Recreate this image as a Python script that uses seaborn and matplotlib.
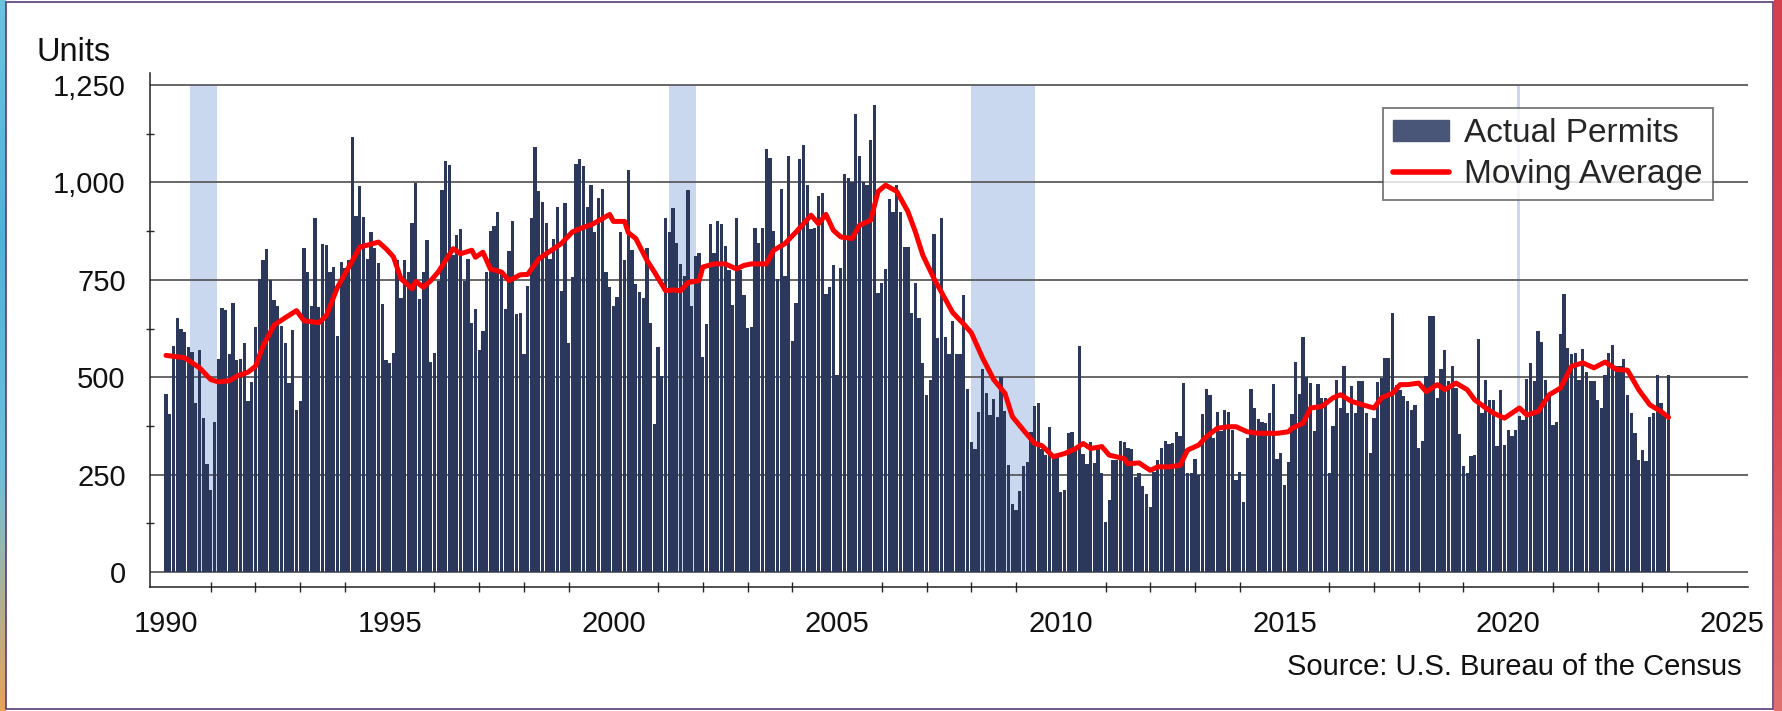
import numpy as np
import pandas as pd
import seaborn as sns
import matplotlib.pyplot as plt
from matplotlib.colors import LinearSegmentedColormap
from matplotlib.ticker import MultipleLocator, FuncFormatter
from matplotlib.patches import Patch, Rectangle
from matplotlib.lines import Line2D

# Monthly permits (units), Jan 1990 - Aug 2023
permits_1990s = [
    456, 405, 580, 652, 623, 615, 578, 565, 435, 569, 395, 278,
    211, 386, 546, 677, 672, 560, 691, 543, 546, 589, 440, 488,
    628, 752, 800, 828, 750, 698, 684, 632, 589, 485, 622, 416,
    438, 832, 771, 684, 908, 681, 843, 840, 771, 783, 607, 796,
    780, 800, 1116, 914, 990, 912, 803, 873, 832, 793, 688, 543,
    537, 563, 802, 703, 802, 771, 896, 998, 701, 770, 852, 540,
    563, 748, 981, 1054, 1045, 813, 866, 881, 748, 804, 640, 675,
    571, 619, 771, 875, 888, 925, 770, 675, 823, 901, 662, 666,
    559, 734, 908, 1091, 977, 951, 895, 804, 856, 936, 722, 948,
    589, 757, 1047, 1060, 1043, 938, 994, 873, 959, 983, 771, 731,
]
permits_2000s = [
    684, 707, 873, 800, 1031, 826, 740, 720, 703, 832, 640, 379,
    578, 502, 909, 873, 934, 845, 790, 760, 981, 684, 810, 819,
    552, 637, 893, 820, 901, 893, 837, 774, 685, 908, 776, 711,
    626, 628, 882, 845, 884, 1087, 1063, 875, 753, 983, 761, 1069,
    593, 690, 1060, 1095, 994, 880, 882, 964, 974, 714, 731, 787,
    506, 780, 1022, 1012, 1002, 1176, 1068, 1002, 994, 1109, 1199, 717,
    742, 778, 957, 925, 994, 925, 835, 835, 665, 742, 652, 537,
    455, 493, 868, 601, 909, 603, 560, 645, 559, 559, 711, 471,
    334, 317, 412, 520, 459, 403, 444, 397, 500, 414, 274, 175,
    159, 208, 272, 283, 360, 427, 435, 317, 300, 373, 300, 295,
]
permits_2010s = [
    205, 211, 356, 360, 317, 580, 304, 276, 334, 281, 324, 253,
    128, 184, 287, 287, 337, 333, 319, 315, 244, 253, 222, 201,
    168, 257, 287, 319, 336, 328, 330, 360, 349, 485, 253, 253,
    289, 248, 405, 471, 455, 343, 412, 363, 416, 412, 365, 235,
    257, 179, 343, 471, 421, 393, 386, 382, 409, 483, 291, 306,
    224, 283, 405, 539, 457, 604, 500, 485, 362, 483, 447, 447,
    253, 376, 494, 421, 530, 408, 478, 409, 490, 490, 408, 306,
    395, 487, 498, 550, 550, 666, 481, 468, 451, 438, 416, 429,
    319, 336, 503, 657, 657, 447, 520, 570, 490, 530, 472, 353,
    272, 254, 298, 300, 597, 408, 494, 442, 442, 323, 468, 326,
]
permits_2020s = [
    365, 349, 365, 401, 390, 496, 537, 490, 619, 591, 494, 451,
    378, 386, 610, 714, 576, 560, 562, 494, 572, 513, 490, 490,
    442, 421, 505, 562, 583, 529, 529, 546, 455, 408, 356, 287,
    313, 284, 397, 408, 505, 435, 408, 505,
]

# Moving average, read at months counted from Jan 1990
ma_month = [0, 5, 9, 12, 14, 17, 19, 22, 24, 26, 29, 32, 35, 37, 41, 43, 46, 50, 52, 57,
            59, 61, 63, 66, 67, 69, 71, 73, 77, 79, 82, 83, 85, 87, 90, 92, 95, 97, 100, 104,
            106, 109, 112, 114, 117, 119, 120, 123, 124, 126, 129, 131, 134, 136, 138, 140, 143, 144, 147, 150,
            153, 155, 157, 161, 163, 166, 169, 171, 173, 175, 177, 179, 181, 184, 186, 189, 191, 193, 196, 199,
            201, 203, 206, 208, 211, 214, 216, 219, 222, 225, 227, 230, 233, 235, 238, 241, 244, 246, 248, 251,
            253, 257, 258, 261, 264, 266, 269, 272, 274, 277, 279, 282, 285, 287, 290, 293, 295, 298, 301, 302,
            305, 307, 310, 313, 315, 318, 321, 324, 326, 329, 331, 333, 336, 338, 341, 343, 346, 349, 351, 354,
            356, 359, 361, 363, 365, 368, 371, 374, 377, 380, 383, 386, 389, 392, 395, 398, 401, 403]
ma_value = [556, 550, 524, 494, 488, 491, 503, 513, 528, 580, 634, 653, 671, 645, 640, 658, 731, 800, 834, 847,
            830, 809, 753, 727, 746, 731, 748, 770, 830, 817, 826, 808, 821, 778, 770, 748, 763, 764, 804, 830,
            843, 873, 885, 891, 907, 918, 900, 900, 871, 856, 800, 770, 722, 724, 722, 743, 748, 783, 791, 791,
            778, 787, 791, 791, 826, 843, 873, 894, 916, 894, 918, 877, 860, 856, 890, 903, 977, 993, 977, 925,
            873, 813, 753, 718, 666, 636, 614, 550, 494, 459, 399, 364, 330, 324, 296, 304, 317, 330, 317, 322,
            300, 291, 278, 280, 261, 270, 270, 274, 313, 326, 347, 369, 373, 373, 360, 356, 356, 356, 360, 369,
            382, 421, 425, 447, 455, 438, 429, 421, 447, 459, 481, 481, 485, 463, 481, 468, 485, 468, 442, 421,
            408, 395, 408, 421, 403, 412, 455, 472, 528, 537, 524, 539, 520, 518, 468, 429, 412, 397]

# Recessions (decimal years, as shaded)
recession_start = [1990.54, 2001.24, 2008.0, 2020.19]
recession_end = [1991.14, 2001.84, 2009.42, 2020.26]

year_ticks = list(range(1990, 2026, 5))
value_ticks = [0, 250, 500, 750, 1000, 1250]

permits = permits_1990s + permits_2000s + permits_2010s + permits_2020s
df = pd.DataFrame({'month': np.arange(len(permits)), 'permits': permits})
df['x'] = 1990 + (df['month'] - 0.45) / 12
ma = pd.DataFrame({'x': 1990 + np.array(ma_month) / 12, 'value': ma_value})

sns.set_style('white')
plt.rcParams['font.family'] = ['Liberation Sans', 'DejaVu Sans']

W, H = 1783, 711
fig = plt.figure(figsize=(W / 100, H / 100), dpi=100)
fig.patch.set_facecolor('white')

# slide border decoration
deco = fig.add_axes([0, 0, 1, 1], zorder=-5)
deco.set_xlim(0, W)
deco.set_ylim(H, 0)
deco.axis('off')
grad = np.linspace(0, 1, 200)[:, None]
deco.imshow(grad, extent=[0, 6, H, 0], aspect='auto',
            cmap=LinearSegmentedColormap.from_list('lb', ['#6cc3df', '#4fb3d9', '#6fc0d8', '#e6a35a']))
deco.imshow(grad, extent=[1774, W, H, 0], aspect='auto',
            cmap=LinearSegmentedColormap.from_list('rb', ['#d5404e', '#d84450', '#e07070']))
deco.add_patch(Rectangle((6, 2), 1767, 707, fill=False, edgecolor='#5a3a78', linewidth=1.2))

ax = fig.add_axes([150 / W, 1 - 587 / H, (1748 - 150) / W, (587 - 73) / H])

for s, e in zip(recession_start, recession_end):
    ax.fill_between([s, e], value_ticks[0], value_ticks[-1], color='#c9d7ef', linewidth=0, zorder=0.2)

ax.bar(df['x'], df['permits'], width=0.88 / 12, align='edge', color='#2b385c',
       linewidth=0, zorder=2)
sns.lineplot(data=ma, x='x', y='value', ax=ax, color='#ff0000', linewidth=3.6, zorder=3)

ax.set_xlim(1989.642, 2025.36)
ax.set_ylim(-38.5, 1281)
ax.set_axisbelow(True)
ax.yaxis.grid(True, color='#5c5c5c', linewidth=1.3)
ax.xaxis.grid(False)

ax.set_yticks(value_ticks)
ax.yaxis.set_minor_locator(MultipleLocator(125))
ax.yaxis.set_major_formatter(FuncFormatter(lambda v, p: f'{v:,.0f}'))
ax.set_xticks(year_ticks)
ax.xaxis.set_minor_locator(MultipleLocator(1))
ax.tick_params(axis='y', which='major', direction='inout', length=13, width=1.2,
               labelsize=21, pad=11, colors='#111111')
ax.tick_params(axis='y', which='minor', direction='inout', length=6, width=1.0, left=True)
ax.tick_params(axis='x', which='major', direction='inout', length=13, width=1.3,
               labelsize=21, pad=10, colors='#111111')
ax.tick_params(axis='x', which='minor', direction='inout', length=6.5, width=1.0, bottom=True)

for side in ['top', 'right']:
    ax.spines[side].set_visible(False)
for side in ['left', 'bottom']:
    ax.spines[side].set_color('#222222')
    ax.spines[side].set_linewidth(1.1)

ax.set_xlabel('')
ax.set_ylabel('')

handles = [Patch(facecolor='#4a5678', edgecolor='#4a5678'),
           Line2D([0], [0], color='#ff0000', linewidth=4)]
leg = fig.legend(handles, ['Actual Permits', 'Moving Average'], loc='upper right',
                 bbox_to_anchor=(1713 / W, 1 - 108 / H), bbox_transform=fig.transFigure,
                 fontsize=24, frameon=True, fancybox=False, borderpad=0.3,
                 handlelength=1.7, handleheight=0.6, handletextpad=0.45, labelspacing=0.3,
                 borderaxespad=0)
leg.get_frame().set_edgecolor('#555555')
leg.get_frame().set_linewidth(1.3)

fig.text(37 / W, 1 - 61 / H, 'Units', fontsize=23.5, va='baseline', ha='left', color='#111111')
fig.text(1742 / W, 1 - 675 / H, 'Source: U.S. Bureau of the Census', fontsize=21,
         va='baseline', ha='right', color='#111111')

fig.savefig('out.png', dpi=100)
